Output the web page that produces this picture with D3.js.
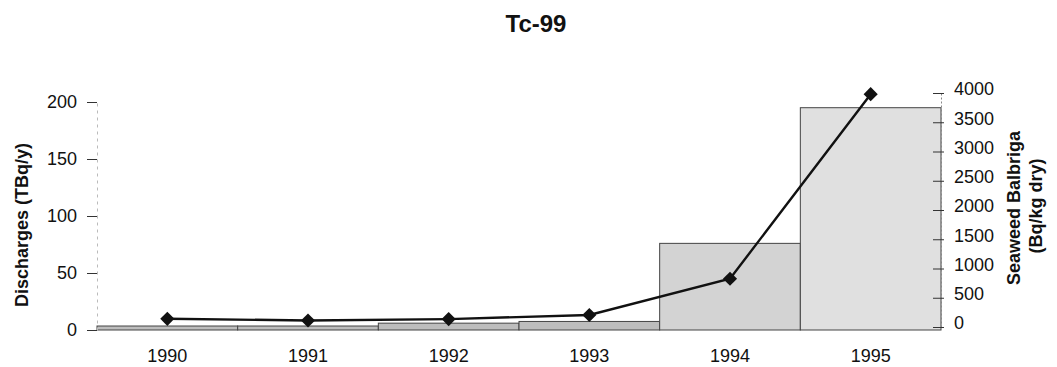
<!DOCTYPE html>
<html>
<head>
<meta charset="utf-8">
<script src="https://cdn.jsdelivr.net/npm/d3@7"></script>
<style>
  body { margin: 0; background: #fff; }
  text { font-family: "Liberation Sans", Arial, sans-serif; fill: #111; }
</style>
</head>
<body>
<svg width="1057" height="367"></svg>
<script>
var years = ["1990", "1991", "1992", "1993", "1994", "1995"];
var discharges = [3.5, 3.5, 6, 7.5, 76, 195];          // TBq/y, bars, left axis
var seaweed = [140, 112, 135, 205, 825, 3980];         // Bq/kg dry, line, right axis
var leftTicks = [0, 50, 100, 150, 200];
var rightTicks = [0, 500, 1000, 1500, 2000, 2500, 3000, 3500, 4000];

var svg = d3.select("svg");

// plot area
var left = 97, right = 941;

var x = d3.scaleBand().domain(years).range([left, right]).padding(0);
var yL = d3.scaleLinear().domain([0, 200]).range([330, 102]);
var yR = d3.scaleLinear().domain([0, 4000]).range([327, 93]);

// title
svg.append("text")
  .attr("x", 536).attr("y", 32)
  .attr("text-anchor", "middle")
  .style("font-size", "24px").style("font-weight", "bold")
  .text("Tc-99");

// bars
svg.selectAll(".bar")
  .data(discharges)
  .enter()
  .append("rect")
  .attr("class", "bar")
  .attr("x", function(d, i) { return x(years[i]); })
  .attr("width", x.bandwidth())
  .attr("y", function(d) { return yL(d); })
  .attr("height", function(d) { return yL(0) - yL(d); })
  .attr("fill", function(d, i) { return i == 5 ? "#e0e0e0" : (i < 4 ? "#bdbdbd" : "#d3d3d3"); })
  .attr("stroke", "#444")
  .attr("stroke-width", 1);

// left axis
var gL = svg.append("g").attr("transform", "translate(" + left + ",0)")
  .call(d3.axisLeft(yL).tickValues(leftTicks).tickSize(10).tickSizeOuter(0).tickPadding(10));
gL.select(".domain").attr("stroke", "#bbb").attr("stroke-dasharray", "3,4");
gL.selectAll(".tick line").attr("stroke", "#333");
gL.selectAll(".tick text").style("font-size", "18px");

// right axis
var gR = svg.append("g").attr("transform", "translate(" + right + ",0)")
  .call(d3.axisRight(yR).tickValues(rightTicks).tickFormat(d3.format("d"))
    .tickSize(3).tickSizeOuter(0).tickPadding(10));
gR.select(".domain").attr("stroke", "#888").attr("stroke-dasharray", "2,2");
gR.selectAll(".tick line").attr("stroke", "#333").attr("x1", -8);
gR.selectAll(".tick text").style("font-size", "18px").attr("dy", "0.1em");

// x labels
svg.append("g").attr("transform", "translate(0,330)")
  .call(d3.axisBottom(x).tickSize(0).tickPadding(19))
  .call(function(g) { g.select(".domain").remove(); })
  .selectAll("text").style("font-size", "18px");

// line
var line = d3.line()
  .x(function(d, i) { return x(years[i]) + x.bandwidth() / 2; })
  .y(function(d) { return yR(d); });

svg.append("path")
  .datum(seaweed)
  .attr("d", line)
  .attr("fill", "none")
  .attr("stroke", "#111")
  .attr("stroke-width", 2.4);

svg.selectAll(".pt")
  .data(seaweed)
  .enter()
  .append("path")
  .attr("class", "pt")
  .attr("transform", function(d, i) { return "translate(" + (x(years[i]) + x.bandwidth() / 2) + "," + yR(d) + ") rotate(45)"; })
  .attr("d", d3.symbol().type(d3.symbolSquare).size(100))
  .attr("fill", "#111");

// axis titles
svg.append("text")
  .attr("transform", "translate(28,225) rotate(-90)")
  .attr("text-anchor", "middle")
  .style("font-size", "18px").style("font-weight", "bold")
  .text("Discharges (TBq/y)");

svg.append("text")
  .attr("transform", "translate(1020,208) rotate(-90)")
  .attr("text-anchor", "middle")
  .style("font-size", "18px").style("font-weight", "bold")
  .text("Seaweed Balbriga");

svg.append("text")
  .attr("transform", "translate(1042,206) rotate(-90)")
  .attr("text-anchor", "middle")
  .style("font-size", "18px").style("font-weight", "bold")
  .text("(Bq/kg dry)");
</script>
</body>
</html>
